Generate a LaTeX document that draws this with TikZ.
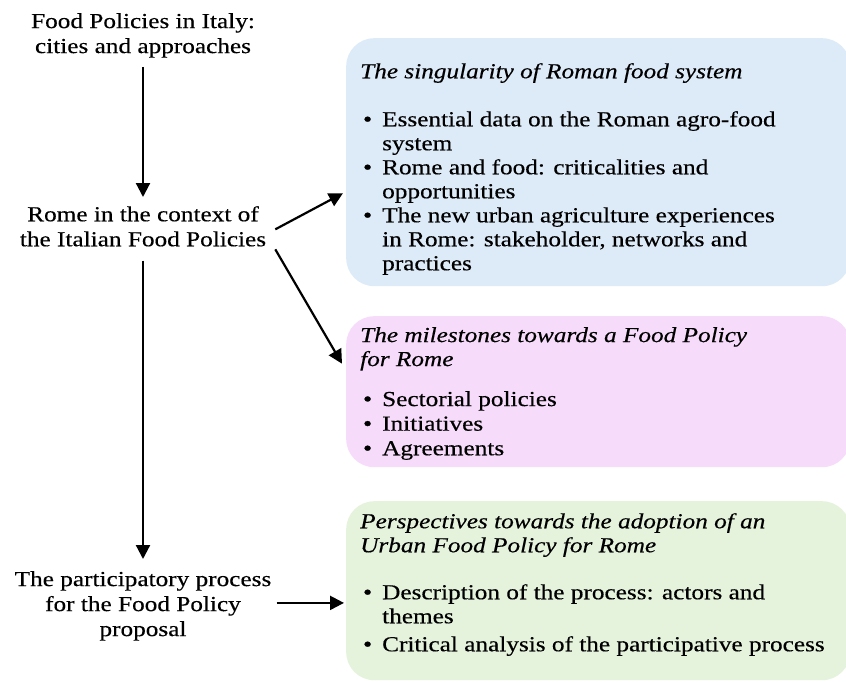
\documentclass[tikz,border=0pt]{standalone}
\usepackage{fontspec}
\setmainfont{Liberation Serif}[FakeStretch=1.18, FakeBold=0.35]
\newfontfamily\bulfont{Liberation Serif}[FakeStretch=1.18, FakeBold=1.2]
\usetikzlibrary{arrows.meta}
\definecolor{bluebox}{HTML}{DDEAF7}
\definecolor{pinkbox}{HTML}{F6DCFA}
\definecolor{greenbox}{HTML}{E5F3DD}
\newcommand{\mybul}{\makebox[20pt][l]{\hspace*{1pt}{\bulfont\textbullet}}}
\newcommand{\myind}{\hspace*{20pt}}
\tikzset{
  box/.style={rounded corners=28pt, inner sep=0pt, anchor=north west},
  lefttxt/.style={align=center, inner sep=9pt, anchor=north, font=\fontsize{21.4}{25}\selectfont},
  boxtxt/.style={align=left, inner sep=0pt, anchor=north west, font=\fontsize{21.4}{24}\selectfont},
  headtxt/.style={align=left, inner sep=0pt, anchor=north west, font=\fontsize{21.4}{24}\selectfont\itshape},
  arr/.style={-{Triangle[length=14pt,width=14pt]}, line width=2.2pt},
}
\begin{document}
\begin{tikzpicture}[x=1pt,y=-1pt]
\useasboundingbox (0,0) rectangle (846,681);
% boxes
\node[box, fill=bluebox, minimum width=504pt, minimum height=248pt] (b1) at (346,38) {};
\node[box, fill=pinkbox, minimum width=504pt, minimum height=151pt] (b2) at (346,316) {};
\node[box, fill=greenbox, minimum width=504pt, minimum height=179pt] (b3) at (346,501) {};
% left texts
\node[lefttxt] (n1) at (143,4) {Food Policies in Italy:\\cities and approaches};
\node[lefttxt] (n2) at (143,197) {Rome in the context of\\the Italian Food Policies};
\node[lefttxt] (n3) at (143,562) {The participatory process\\for the Food Policy\\proposal};
% box texts
\node[headtxt] (h1) at (360,63) {The singularity of Roman food system};
\node[boxtxt] (l1) at (362,111) {\mybul Essential data on the Roman agro-food\\\myind system\\\mybul Rome and food: criticalities and\\\myind opportunities\\\mybul The new urban agriculture experiences\\\myind in Rome: stakeholder, networks and\\\myind practices};
\node[headtxt] (h2) at (360,327) {The milestones towards a Food Policy\\for Rome};
\node[boxtxt] (l2) at (362,391) {\mybul Sectorial policies\\[0.6pt]\mybul Initiatives\\[0.6pt]\mybul Agreements};
\node[headtxt] (h3) at (360,513) {Perspectives towards the adoption of an\\Urban Food Policy for Rome};
\node[boxtxt] (l3) at (362,584) {\mybul Description of the process: actors and\\\myind themes\\[4pt]\mybul Critical analysis of the participative process};
% arrows
\draw[arr] (n1.south) -- (n2.north);
\draw[arr] ([yshift=-3pt]n2.east) -- ([xshift=-3pt,yshift=-31pt]b1.west);
\draw[arr] ([yshift=-23pt]n2.east) -- ([xshift=-4pt,yshift=28pt]b2.west);
\draw[arr, shorten <=5pt, shorten >=3pt] (n2.south) -- (n3.north);
\coordinate (p5) at ([xshift=-4pt,yshift=3pt]n3.east);
\draw[arr] (p5) -- ([xshift=-2pt]b3.west |- p5);
\end{tikzpicture}
\end{document}
